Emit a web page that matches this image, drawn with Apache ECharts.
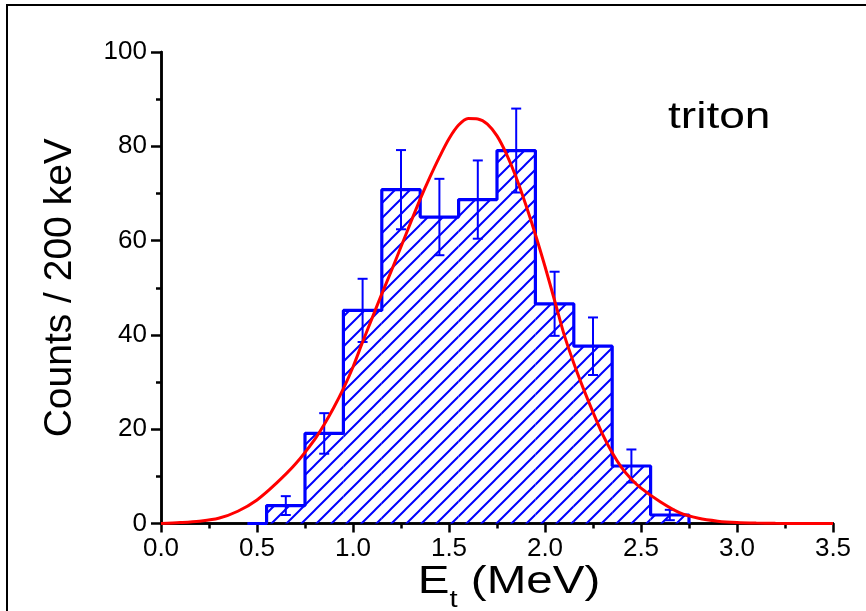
<!DOCTYPE html>
<html>
<head>
<meta charset="utf-8">
<script src="https://cdn.jsdelivr.net/npm/echarts@6/dist/echarts.min.js"></script>
<style>
html,body{margin:0;padding:0;background:#fff;}
#chart{width:866px;height:611px;}
</style>
</head>
<body>
<div id="chart"></div>
<script>
// ---- Data ----
const binWidth = 0.2;                 // MeV (200 keV)
const binStarts = [0.55, 0.75, 0.95, 1.15, 1.35, 1.55, 1.75, 1.95, 2.15, 2.35, 2.55];
const counts    = [3.8, 19.1, 45.2, 70.8, 65.0, 68.7, 79.1, 46.6, 37.6, 12.2, 1.8];
const errors    = [2.0, 4.3, 6.7, 8.4, 8.1, 8.3, 8.9, 6.8, 6.1, 3.5, 1.1];
const outlineStart = 0.45;
// fitted curve
const fitE = [0.0, 0.1, 0.2, 0.3, 0.4, 0.5, 0.6, 0.7, 0.8, 0.85, 0.9, 0.95, 1.0, 1.05, 1.1, 1.15, 1.2, 1.25, 1.3, 1.35, 1.4, 1.45, 1.5, 1.55, 1.6, 1.65, 1.7, 1.75, 1.8, 1.85, 1.9, 1.95, 2.0, 2.05, 2.1, 2.15, 2.2, 2.25, 2.3, 2.35, 2.4, 2.45, 2.5, 2.6, 2.7, 2.8, 2.9, 3.0, 3.1, 3.2, 3.3, 3.4, 3.5];
const fitY = [0.0, 0.2, 0.5, 1.1, 2.6, 5.0, 8.5, 12.6, 17.8, 21.0, 24.6, 28.6, 33.2, 38.5, 43.6, 48.7, 53.6, 58.7, 63.8, 68.8, 73.4, 77.7, 81.6, 84.5, 85.9, 85.8, 84.7, 82.2, 78.3, 73.4, 67.6, 61.3, 54.5, 47.3, 40.0, 34.0, 28.6, 23.6, 18.9, 15.0, 11.8, 9.4, 7.5, 4.6, 2.3, 1.1, 0.5, 0.2, 0.08, 0.03, 0.01, 0.0, 0.0];
const xTicks = {min: 0, max: 3.5, interval: 0.5};
const yTicks = {min: 0, max: 100, interval: 20};
const label = 'triton';
const xTitle = '{m|E}{s|t}{m| (MeV)}';
const yTitle = 'Counts / 200 keV';

// ---- hatch pattern ----
const hs = 15;
const pc = document.createElement('canvas');
pc.width = hs; pc.height = hs;
const g = pc.getContext('2d');
g.strokeStyle = '#0000ff';
g.lineWidth = 2;
g.beginPath();
g.moveTo(-2, hs + 2); g.lineTo(hs + 2, -2);
g.moveTo(-2, 2); g.lineTo(2, -2);
g.moveTo(hs - 2, hs + 2); g.lineTo(hs + 2, hs - 2);
g.stroke();

const barData = binStarts.map((s, i) => [s, s + binWidth, counts[i]]);
const errData = binStarts.map((s, i) => [s + binWidth / 2, counts[i] - errors[i], counts[i] + errors[i]]);
const stepData = [[outlineStart, 0]]
  .concat(binStarts.map((s, i) => [s, counts[i]]))
  .concat([[binStarts[binStarts.length - 1] + binWidth, 0]]);
const fitData = fitE.map((e, i) => [e, fitY[i]]);

const font = '"Liberation Sans", Arial, sans-serif';
const chart = echarts.init(document.getElementById('chart'), null, {renderer: 'canvas'});
const axisLine = {lineStyle: {color: '#000', width: 2.5}};
chart.setOption({
  animation: false,
  backgroundColor: '#fff',
  graphic: [{
    type: 'rect', silent: true,
    shape: {x: 7, y: 5, width: 900, height: 700},
    style: {fill: null, stroke: '#000', lineWidth: 2}
  }, {
    type: 'text', silent: true, x: 668, y: 100, scaleX: 1.28,
    style: {text: label, font: '36px ' + font, fill: '#000', align: 'left', verticalAlign: 'top'}
  }, {
    type: 'text', silent: true, x: 509, y: 563, scaleX: 1.22,
    style: {
      text: xTitle, align: 'center', verticalAlign: 'top', fill: '#000',
      rich: {
        m: {fontFamily: font, fontSize: 39, fill: '#000', lineHeight: 39, verticalAlign: 'top'},
        s: {fontFamily: font, fontSize: 24, fill: '#000', lineHeight: 49, verticalAlign: 'bottom'}
      }
    }
  }],
  grid: {left: 161, right: 33, top: 52, bottom: 87.5, containLabel: false, outerBoundsMode: 'none'},
  xAxis: [{
    type: 'value', min: xTicks.min, max: xTicks.max, interval: xTicks.interval,
    axisLine: axisLine,
    axisTick: {show: true, inside: false, length: 9, lineStyle: {color: '#000', width: 2.5}},
    minorTick: {show: true, splitNumber: 2, length: 5, lineStyle: {color: '#000', width: 2.5}},
    splitLine: {show: false},
    axisLabel: {margin: 12, fontFamily: font, fontSize: 26, color: '#000', formatter: v => v.toFixed(1)}
  }, {
    type: 'value', position: 'top', min: xTicks.min, max: xTicks.max, interval: xTicks.interval,
    axisLine: axisLine,
    axisTick: {show: true, inside: true, length: 9, lineStyle: {color: '#000', width: 2.5}},
    minorTick: {show: true, splitNumber: 2, length: 5, lineStyle: {color: '#000', width: 2.5}},
    splitLine: {show: false}, axisLabel: {show: false}
  }],
  yAxis: [{
    type: 'value', min: yTicks.min, max: yTicks.max, interval: yTicks.interval,
    axisLine: axisLine,
    axisTick: {show: true, inside: false, length: 10, lineStyle: {color: '#000', width: 2.5}},
    minorTick: {show: true, splitNumber: 2, length: 5, lineStyle: {color: '#000', width: 2.5}},
    splitLine: {show: false},
    axisLabel: {margin: 14, fontFamily: font, fontSize: 26, color: '#000'},
    name: yTitle, nameLocation: 'middle', nameGap: 81,
    nameTextStyle: {fontFamily: font, fontSize: 39, color: '#000'}
  }, {
    type: 'value', position: 'right', min: yTicks.min, max: yTicks.max, interval: yTicks.interval,
    axisLine: axisLine,
    axisTick: {show: true, inside: true, length: 10, lineStyle: {color: '#000', width: 2.5}},
    minorTick: {show: true, splitNumber: 2, length: 5, lineStyle: {color: '#000', width: 2.5}},
    splitLine: {show: false}, axisLabel: {show: false}
  }],
  series: [{
    type: 'custom', name: 'hatch', z: 2,
    data: barData,
    renderItem: function (params, api) {
      const p0 = api.coord([api.value(0), api.value(2)]);
      const p1 = api.coord([api.value(1), 0]);
      return {
        type: 'rect',
        shape: {x: p0[0], y: p0[1], width: p1[0] - p0[0], height: p1[1] - p0[1]},
        style: {fill: {image: pc, repeat: 'repeat'}, stroke: null}
      };
    }
  }, {
    type: 'line', name: 'outline', z: 3, step: 'end', showSymbol: false,
    data: stepData,
    lineStyle: {color: '#0000ff', width: 3.2}
  }, {
    type: 'custom', name: 'errors', z: 4,
    data: errData,
    renderItem: function (params, api) {
      const lo = api.coord([api.value(0), api.value(1)]);
      const hi = api.coord([api.value(0), api.value(2)]);
      const c = 5;
      const st = {stroke: '#0000ff', lineWidth: 2};
      return {
        type: 'group', children: [
          {type: 'line', shape: {x1: lo[0], y1: lo[1], x2: hi[0], y2: hi[1]}, style: st},
          {type: 'line', shape: {x1: lo[0] - c, y1: lo[1], x2: lo[0] + c, y2: lo[1]}, style: st},
          {type: 'line', shape: {x1: hi[0] - c, y1: hi[1], x2: hi[0] + c, y2: hi[1]}, style: st}
        ]
      };
    }
  }, {
    type: 'line', name: 'fit', z: 5, smooth: 0.3, showSymbol: false,
    data: fitData,
    lineStyle: {color: '#ff0000', width: 3}
  }]
});
</script>
</body>
</html>
